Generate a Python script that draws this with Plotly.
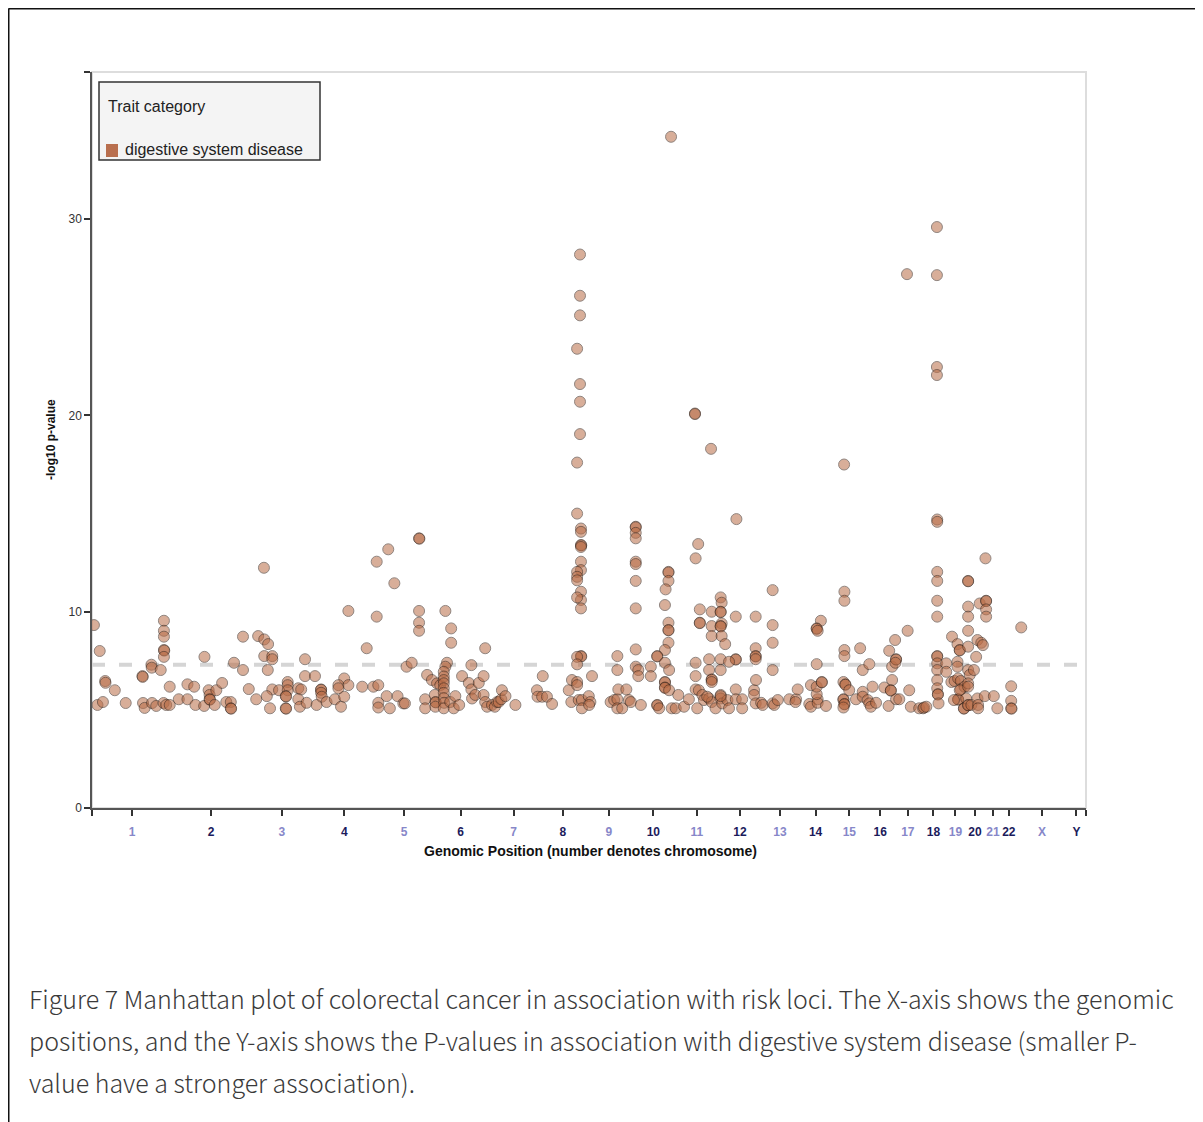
import plotly.graph_objects as go

# ---------------- data ----------------
chrom_names = ['1', '2', '3', '4', '5', '6', '7', '8', '9', '10', '11', '12', '13',
               '14', '15', '16', '17', '18', '19', '20', '21', '22', 'X', 'Y']
# hg19 chromosome lengths (Mb)
chrom_len_mb = [249.25, 243.20, 198.02, 191.15, 180.92, 171.12, 159.14, 146.36, 141.21,
                135.53, 135.01, 133.85, 115.17, 107.35, 102.53, 90.35, 81.20, 78.08,
                59.13, 63.03, 48.13, 51.30, 155.27, 59.37]

# position of each locus inside its chromosome (Mb)
loci_pos_mb = {
    '1': [6, 24, 41, 42, 71, 17, 34, 105, 157, 158, 159, 164, 187, 200, 185, 186, 214, 224, 224, 224, 224, 225, 224, 242, 223, 231, 242],
    '2': [21, 48, 69, 48, 73, 100, 101, 114, 117, 117, 118, 138, 133, 156, 169, 183, 183, 184, 193, 221, 221, 239],
    '3': [25, 44, 56, 19, 43, 44, 69, 69, 171, 55, 171, 117, 117, 69, 90, 117, 150, 159, 52, 111, 112, 111, 112, 62, 150, 155, 176],
    '4': [4, 9, 23, 23, 23, 25, 40, 66, 85, 95, 95, 77, 108, 77, 108, 151, 165, 186],
    '5': [5, 5, 10, 10, 10, 36, 41, 46, 60, 70, 88, 93, 98, 114, 137, 138, 137, 137, 137, 162, 156, 156, 177],
    '6': [5, 7, 8, 7, 12, 22, 43, 38, 33, 33, 33, 33, 33, 33, 33, 34, 33, 38, 53, 56, 56, 64, 69, 81, 90, 111, 119, 119, 121, 131, 142, 157, 157, 162, 162, 168],
    '7': [12, 21, 28, 33, 41, 43, 54, 85, 152, 154],
    '8': [11, 9, 24, 40, 92, 102, 100, 118, 118, 123, 133, 133, 118, 130, 130, 130, 131, 130, 130, 130, 118, 118, 118, 130, 130, 130, 118, 130, 131, 118, 118, 127, 127, 127, 118, 127, 127, 127, 118],
    '9': [8, 13, 18, 9, 76, 87, 97, 97, 112, 133, 139, 97, 97, 100, 125],
    '10': [13, 13, 13, 13, 13, 13, 13, 13, 13, 13, 21, 21, 60, 60, 29, 115, 115, 115, 106, 104, 115, 115, 115, 115, 104, 80, 80, 104, 117, 104, 104, 104, 104, 117, 80, 80, 86, 125, 123],
    '11': [2, 10, 28, 43, 64, 64, 64, 74, 72, 64, 77, 77, 77, 114, 114, 114, 106, 106, 114, 114, 114, 69, 85, 90, 106, 114, 126, 100, 62, 62, 112],
    '12': [7, 10, 7, 7, 10, 7, 7, 10, 21, 54, 116, 7, 54, 54, 33, 7, 116, 116, 116, 116, 56, 7, 7, 12, 28, 33, 54, 54, 74, 74, 111, 111, 116, 117, 133, 7],
    '13': [4, 35, 40, 51, 87, 108, 106, 35, 35, 35, 35, 113],
    '14': [34, 39, 39, 60, 60, 57, 57, 70, 57, 57, 60, 57, 73, 73, 86],
    '15': [33, 33, 36, 36, 33, 36, 36, 36, 36, 33, 39, 39, 35, 51, 72, 85, 93, 93, 93],
    '16': [6, 11, 16, 11, 21, 32, 58, 71, 73, 82, 78, 78, 82],
    '17': [1, 4, 4, 2, 4, 14, 40, 45, 38, 50, 76],
    '18': [7, 10, 17, 51, 51, 51, 51, 51, 51, 51, 51, 51, 51, 51, 51, 53, 53, 55, 50, 50, 50, 50],
    '19': [1, 1, 19, 36, 43, 43, 36, 36, 17, 27, 38, 46, 46, 58, 38, 38, 43, 25, 56, 56],
    '20': [10, 10, 10, 10, 10, 10, 10, 15, 28, 10, 10, 46, 39, 51, 56, 35, 4, 10, 10, 20, 39, 41, 41, 62],
    '21': [1, 3, 3, 3, 3, 27, 38],
    '22': [33, 33, 33, 34],
    'X': [13],
}
# -log10 p-value of each locus
loci_mlog10p = {
    '1': [9.32, 8.0, 6.47, 6.38, 6.0, 5.25, 5.4, 5.35, 6.72, 6.68, 5.35, 5.1, 5.35, 5.2, 7.3, 7.15, 7.03, 9.54, 9.03, 8.73, 8.05, 8.02, 7.7, 6.18, 5.35, 5.25, 5.25],
    '2': [5.54, 6.3, 6.18, 5.54, 5.25, 5.2, 7.7, 6.0, 5.76, 5.54, 5.52, 6.0, 5.25, 6.37, 5.4, 5.4, 5.08, 5.06, 7.4, 7.03, 8.73, 6.06],
    '3': [8.76, 8.59, 8.35, 5.54, 12.24, 7.74, 7.74, 7.58, 7.58, 7.03, 6.72, 6.42, 6.26, 6.04, 6.0, 6.0, 6.1, 6.04, 5.7, 5.7, 5.68, 5.08, 5.06, 5.08, 5.54, 5.16, 5.36],
    '4': [6.72, 5.25, 6.04, 6.02, 5.87, 5.67, 5.4, 5.54, 5.16, 5.67, 6.6, 6.26, 6.26, 6.1, 10.04, 6.18, 8.14, 6.18],
    '5': [12.55, 9.75, 6.26, 5.36, 5.12, 5.7, 13.18, 5.08, 11.45, 5.7, 5.33, 5.33, 7.2, 7.4, 13.74, 13.72, 10.04, 9.44, 9.03, 6.78, 5.54, 5.08, 6.52],
    '6': [5.76, 5.4, 5.38, 5.16, 6.35, 6.26, 7.4, 7.2, 6.94, 6.7, 6.52, 6.35, 6.1, 5.87, 5.6, 5.36, 5.08, 10.04, 5.4, 9.15, 8.42, 5.08, 5.7, 5.25, 6.72, 6.37, 7.28, 6.04, 5.58, 5.76, 6.37, 6.72, 5.76, 8.14, 5.4, 5.16],
    '7': [5.25, 5.16, 5.4, 5.4, 5.54, 6.0, 5.7, 5.25, 6.0, 5.67],
    '8': [6.72, 5.67, 5.67, 5.3, 6.0, 6.52, 5.4, 6.42, 6.26, 5.5, 5.5, 5.08, 15.0, 14.24, 14.07, 13.4, 13.38, 13.3, 12.55, 12.12, 12.03, 11.78, 11.6, 11.02, 10.6, 10.17, 10.73, 7.74, 7.72, 7.7, 7.32, 28.2, 26.1, 25.1, 23.4, 21.6, 20.7, 19.05, 17.6],
    '9': [5.7, 5.4, 6.72, 5.25, 5.4, 5.5, 5.54, 5.08, 5.08, 5.5, 5.4, 7.74, 7.03, 6.04, 6.04],
    '10': [14.33, 14.3, 14.02, 13.74, 12.55, 12.43, 11.57, 10.17, 8.08, 7.2, 7.03, 6.72, 7.2, 6.72, 5.25, 12.03, 12.0, 11.57, 11.14, 10.34, 9.44, 9.07, 9.05, 8.42, 8.05, 7.74, 7.72, 7.4, 7.03, 6.42, 6.4, 6.14, 6.12, 6.0, 5.25, 5.23, 5.08, 5.08, 34.2],
    '11': [5.08, 5.76, 5.16, 5.54, 7.4, 6.72, 6.04, 6.0, 13.45, 12.72, 10.12, 9.44, 9.42, 10.0, 9.27, 8.76, 7.58, 7.03, 6.55, 6.53, 6.42, 5.08, 5.76, 5.5, 5.58, 5.4, 5.08, 5.67, 20.1, 20.07, 18.3],
    '12': [10.73, 10.46, 10.0, 9.98, 9.4, 9.27, 9.25, 8.76, 8.35, 9.75, 9.75, 7.58, 7.58, 7.56, 7.45, 7.03, 8.14, 7.74, 7.72, 7.58, 14.72, 5.76, 5.58, 5.33, 5.5, 5.08, 6.04, 5.54, 5.54, 5.08, 6.0, 5.76, 5.33, 6.52, 5.36, 5.7],
    '13': [5.25, 5.33, 5.25, 5.5, 5.54, 5.54, 5.4, 11.1, 9.32, 8.42, 7.03, 6.04],
    '14': [5.3, 5.16, 6.26, 5.54, 5.36, 5.8, 6.18, 9.54, 9.15, 9.13, 9.03, 7.33, 6.42, 6.4, 5.2],
    '15': [5.54, 5.52, 5.3, 5.28, 5.12, 11.02, 10.56, 8.05, 7.74, 6.42, 6.3, 6.28, 17.5, 6.0, 5.54, 8.14, 7.03, 5.92, 5.67],
    '16': [5.5, 5.33, 5.16, 7.33, 6.18, 5.36, 6.14, 5.2, 8.01, 6.52, 6.0, 5.98, 7.2],
    '17': [8.56, 7.58, 7.56, 7.4, 5.54, 5.54, 9.03, 6.0, 27.2, 5.16, 5.08],
    '18': [5.08, 5.12, 5.16, 14.7, 14.58, 12.03, 11.57, 10.56, 9.75, 7.74, 7.72, 7.37, 7.03, 6.52, 6.1, 5.8, 5.78, 5.33, 29.6, 27.15, 22.47, 22.06],
    '19': [7.37, 6.94, 8.73, 8.35, 8.05, 8.03, 7.45, 7.2, 6.42, 6.47, 6.6, 6.47, 6.04, 6.18, 5.54, 5.52, 6.0, 5.5, 5.08, 5.06],
    '20': [11.57, 11.55, 10.26, 9.75, 9.03, 8.22, 7.03, 6.78, 7.03, 6.35, 6.18, 10.42, 8.56, 8.42, 8.3, 7.7, 5.58, 5.25, 5.23, 5.25, 5.58, 5.25, 5.08, 5.7],
    '21': [12.72, 10.56, 10.54, 10.12, 9.75, 5.7, 5.08],
    '22': [6.2, 5.46, 5.08, 5.06],
    'X': [9.2],
}

significance_threshold = 7.3   # -log10(5e-8)
trait_name = 'digestive system disease'
legend_title = 'Trait category'
x_title = 'Genomic Position (number denotes chromosome)'
y_title = '-log10 p-value'
y_tick_vals = [0, 10, 20, 30]
y_max = 37.5
caption_lines = [
    'Figure 7 Manhattan plot of colorectal cancer in association with risk loci. The X-axis shows the genomic',
    'positions, and the Y-axis shows the P-values in association with digestive system disease (smaller P-',
    'value have a stronger association).',
]

# ---------------- derived ----------------
chrom_start = {}
acc = 0.0
for name, ln in zip(chrom_names, chrom_len_mb):
    chrom_start[name] = acc
    acc += ln
genome_len = acc

xs, ys = [], []
for name in chrom_names:
    if name in loci_pos_mb:
        for p, v in zip(loci_pos_mb[name], loci_mlog10p[name]):
            xs.append(chrom_start[name] + p)
            ys.append(v)

LIGHT = '#8787c9'
DARK = '#1b1b5c'
tickvals = [0.0]
ticktext = ['']
for i, (name, ln) in enumerate(zip(chrom_names, chrom_len_mb)):
    tickvals.append(chrom_start[name] + ln / 2)
    col = LIGHT if i % 2 == 0 else DARK
    ticktext.append(f'<span style="color:{col}">{name}</span>')
tickvals.append(genome_len)
ticktext.append('')

FONT = 'Liberation Sans, Arial, sans-serif'
POINT_RGB = 'rgb(185,108,70)'

fig = go.Figure()
fig.add_trace(go.Scatter(
    x=xs, y=ys, mode='markers', name=trait_name, showlegend=False,
    marker=dict(size=11, color=POINT_RGB, opacity=0.55,
                line=dict(color='rgb(55,35,25)', width=1)),
    hoverinfo='x+y'))

# page has an 8px body margin; layout numbers below are in page pixels
OFF = 8
W, H = 1203 - OFF, 1122 - OFF
PLOT_L, PLOT_R, PLOT_T, PLOT_B = 92, 1086, 72, 808   # page px
L, T = PLOT_L - OFF, PLOT_T - OFF
R, B = W - (PLOT_R - OFF), H - (PLOT_B - OFF)
PW, PH = PLOT_R - PLOT_L, PLOT_B - PLOT_T


def px(xp):
    return (xp - PLOT_L) / PW


def py(yp):
    return (PLOT_B - yp) / PH


shapes = []
# light frame of plot area (top/right)
shapes.append(dict(type='rect', xref='paper', yref='paper', x0=0, x1=1, y0=0, y1=1,
                   line=dict(color='#dddddd', width=2), layer='below'))
# genome-wide significance line
shapes.append(dict(type='line', xref='x', yref='y', x0=0, x1=genome_len,
                   y0=significance_threshold, y1=significance_threshold,
                   line=dict(color='#d5d5d5', width=4, dash='13px,14px'), layer='below'))
# outer figure frame (left and top)
shapes.append(dict(type='line', xref='paper', yref='paper', x0=px(OFF + 0.5), x1=px(1210), y0=py(OFF + 0.5), y1=py(OFF + 0.5),
                   line=dict(color='#111111', width=2)))
shapes.append(dict(type='line', xref='paper', yref='paper', x0=px(OFF + 0.5), x1=px(OFF + 0.5), y0=py(OFF + 0.5), y1=py(1130),
                   line=dict(color='#111111', width=2)))
# legend box
shapes.append(dict(type='rect', xref='paper', yref='paper', x0=px(99), x1=px(320), y0=py(160), y1=py(82),
                   fillcolor='#f4f4f4', line=dict(color='#333333', width=1.5)))
shapes.append(dict(type='rect', xref='paper', yref='paper', x0=px(106), x1=px(118), y0=py(157), y1=py(144),
                   fillcolor='#b96f4e', line=dict(width=0)))

annotations = [
    dict(text=legend_title, xref='paper', yref='paper', x=px(106), y=py(107), xanchor='left', yanchor='middle',
         showarrow=False, font=dict(family=FONT, size=16, color='#222222')),
    dict(text=trait_name, xref='paper', yref='paper', x=px(123), y=py(150), xanchor='left', yanchor='middle',
         showarrow=False, font=dict(family=FONT, size=16, color='#222222')),
    dict(text=f'<b>{x_title}</b>', xref='paper', yref='paper', x=px(590), y=py(851), xanchor='center',
         yanchor='middle', showarrow=False, font=dict(family=FONT, size=14, color='#111111')),
    dict(text=f'<b>{y_title}</b>', xref='paper', yref='paper', x=px(51), y=py(440), xanchor='center',
         yanchor='middle', textangle=-90, showarrow=False, font=dict(family=FONT, size=12, color='#111111')),
]
for i, line in enumerate(caption_lines):
    annotations.append(dict(text=line, xref='paper', yref='paper', x=px(27), y=py(998 + 42 * i),
                            xanchor='left', yanchor='middle', showarrow=False,
                            font=dict(family='Noto Sans CJK SC, Noto Sans, sans-serif', size=25,
                                      color='#3a3a3a', weight=300)))

fig.update_layout(
    width=W, height=H,
    margin=dict(l=L, r=R, t=T, b=B, pad=0),
    paper_bgcolor='white', plot_bgcolor='white',
    showlegend=False,
    shapes=shapes, annotations=annotations,
    xaxis=dict(range=[0, genome_len], tickmode='array', tickvals=tickvals, ticktext=ticktext,
               showgrid=False, zeroline=False, showline=True, linecolor='#555555', linewidth=1.5,
               ticks='outside', ticklen=6, tickwidth=1.5, tickcolor='#333333',
               tickfont=dict(family=FONT, size=12, weight='bold'), ticklabelstandoff=6),
    yaxis=dict(range=[0, y_max], tickmode='array', tickvals=y_tick_vals + [y_max],
               ticktext=[str(v) for v in y_tick_vals] + [''],
               showgrid=False, zeroline=False, showline=True, linecolor='#555555', linewidth=1.5,
               ticks='outside', ticklen=6, tickwidth=1.5, tickcolor='#333333',
               tickfont=dict(family=FONT, size=12, color='#333333')),
)

fig.write_html('out.html')
